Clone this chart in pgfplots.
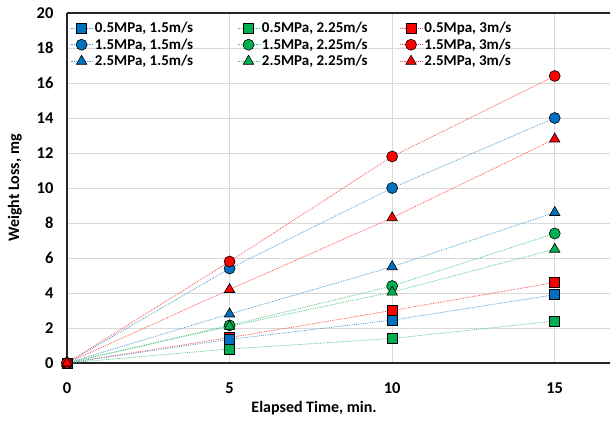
\documentclass[border=0pt]{standalone}
\usepackage{fontspec}
\setmainfont{Carlito}[BoldFont={Carlito Bold}]
\usepackage{pgfplots}
\pgfplotsset{compat=1.18}
\definecolor{cblue}{HTML}{0070C0}
\definecolor{cgreen}{HTML}{00B050}
\definecolor{cred}{HTML}{FF0000}
\pgfplotsset{
  ser/.style={color=#1!70, densely dotted, line width=0.8pt,
    mark options={solid, fill=#1, draw=black, line width=0.6pt}},
  sq/.style={mark=square*, mark size=5pt},
  ci/.style={mark=*, mark size=5.5pt},
  tr/.style={mark=triangle*, mark size=6pt},
}
\newcommand{\pad}{\rule{12pt}{0pt}}
\begin{document}
\begin{tikzpicture}
\begin{axis}[
  name=ax, scale only axis, width=543pt, height=350pt,
  xmin=0, xmax=16.7, ymin=0, ymax=20,
  xtick={0,5,10,15}, ytick={0,2,...,20},
  axis x line*=box, axis y line*=left,
  axis line style={line width=2.8pt, black!85},
  grid=major, grid style={black!15, line width=0.6pt},
  major tick length=0pt,
  clip=false,
  /pgf/number format/assume math mode=true,
  tick label style={font=\fontsize{16.5}{18}\selectfont\bfseries},
  xticklabel style={yshift=-16pt},
  yticklabel style={xshift=-10pt},
  label style={font=\fontsize{16}{18}\selectfont\bfseries},
  xlabel={Elapsed Time, min.},
  xlabel style={at={(axis description cs:0.455,0)}, anchor=north, yshift=-35pt},
  ylabel={Weight Loss, mg},
  ylabel shift=8pt,
  legend columns=3, legend cell align=left,
  legend image code/.code={\draw[mark repeat=2,mark phase=2,#1] plot coordinates {(0pt,0pt) (11pt,0pt) (22pt,0pt)};},
  legend style={at={(0,1)}, anchor=north west, yshift=-5pt,
    draw=none, fill=none, font=\fontsize{15}{17}\selectfont\bfseries,
    /tikz/row sep=0.5pt,
    /tikz/every even column/.append style={column sep=30pt}},
]
% legend entries (row-wise, as in the reference)
\addlegendimage{ser=cblue, sq, draw=none}
\addlegendentry{0.5MPa, 1.5m/s\pad}
\addlegendimage{ser=cgreen, sq}
\addlegendentry{0.5MPa, 2.25m/s}
\addlegendimage{ser=cred, sq}
\addlegendentry{0.5Mpa, 3m/s}
\addlegendimage{ser=cblue, ci}
\addlegendentry{1.5MPa, 1.5m/s\pad}
\addlegendimage{ser=cgreen, ci}
\addlegendentry{1.5MPa, 2.25m/s}
\addlegendimage{ser=cred, ci}
\addlegendentry{1.5MPa, 3m/s}
\addlegendimage{ser=cblue, tr}
\addlegendentry{2.5MPa, 1.5m/s\pad}
\addlegendimage{ser=cgreen, tr}
\addlegendentry{2.5MPa, 2.25m/s}
\addlegendimage{ser=cred, tr, draw=none}
\addlegendentry{2.5MPa, 3m/s}

% data
\addplot[ser=cred, sq, forget plot] coordinates {(0,0) (5,1.45) (10,3.0) (15,4.6)};
\addplot[ser=cgreen, sq, forget plot] coordinates {(0,0) (5,0.8) (10,1.4) (15,2.4)};
\addplot[ser=cblue, sq, forget plot] coordinates {(0,0) (5,1.35) (10,2.45) (15,3.9)};
\addplot[ser=cblue, ci, forget plot] coordinates {(0,0) (5,5.4) (10,10.0) (15,14.0)};
\addplot[ser=cgreen, ci, forget plot] coordinates {(0,0) (5,2.15) (10,4.4) (15,7.4)};
\addplot[ser=cred, ci, forget plot] coordinates {(0,0) (5,5.8) (10,11.8) (15,16.4)};
\addplot[ser=cblue, tr, forget plot] coordinates {(0,0) (5,2.8) (10,5.5) (15,8.6)};
\addplot[ser=cgreen, tr, forget plot] coordinates {(0,0) (5,2.1) (10,4.05) (15,6.5)};
\addplot[ser=cred, tr, forget plot] coordinates {(0,0) (5,4.2) (10,8.3) (15,12.8)};
\end{axis}
\pgfresetboundingbox
\path ([xshift=-67pt,yshift=-59pt]ax.south west) rectangle ([yshift=13pt]ax.north east);
\end{tikzpicture}
\end{document}
